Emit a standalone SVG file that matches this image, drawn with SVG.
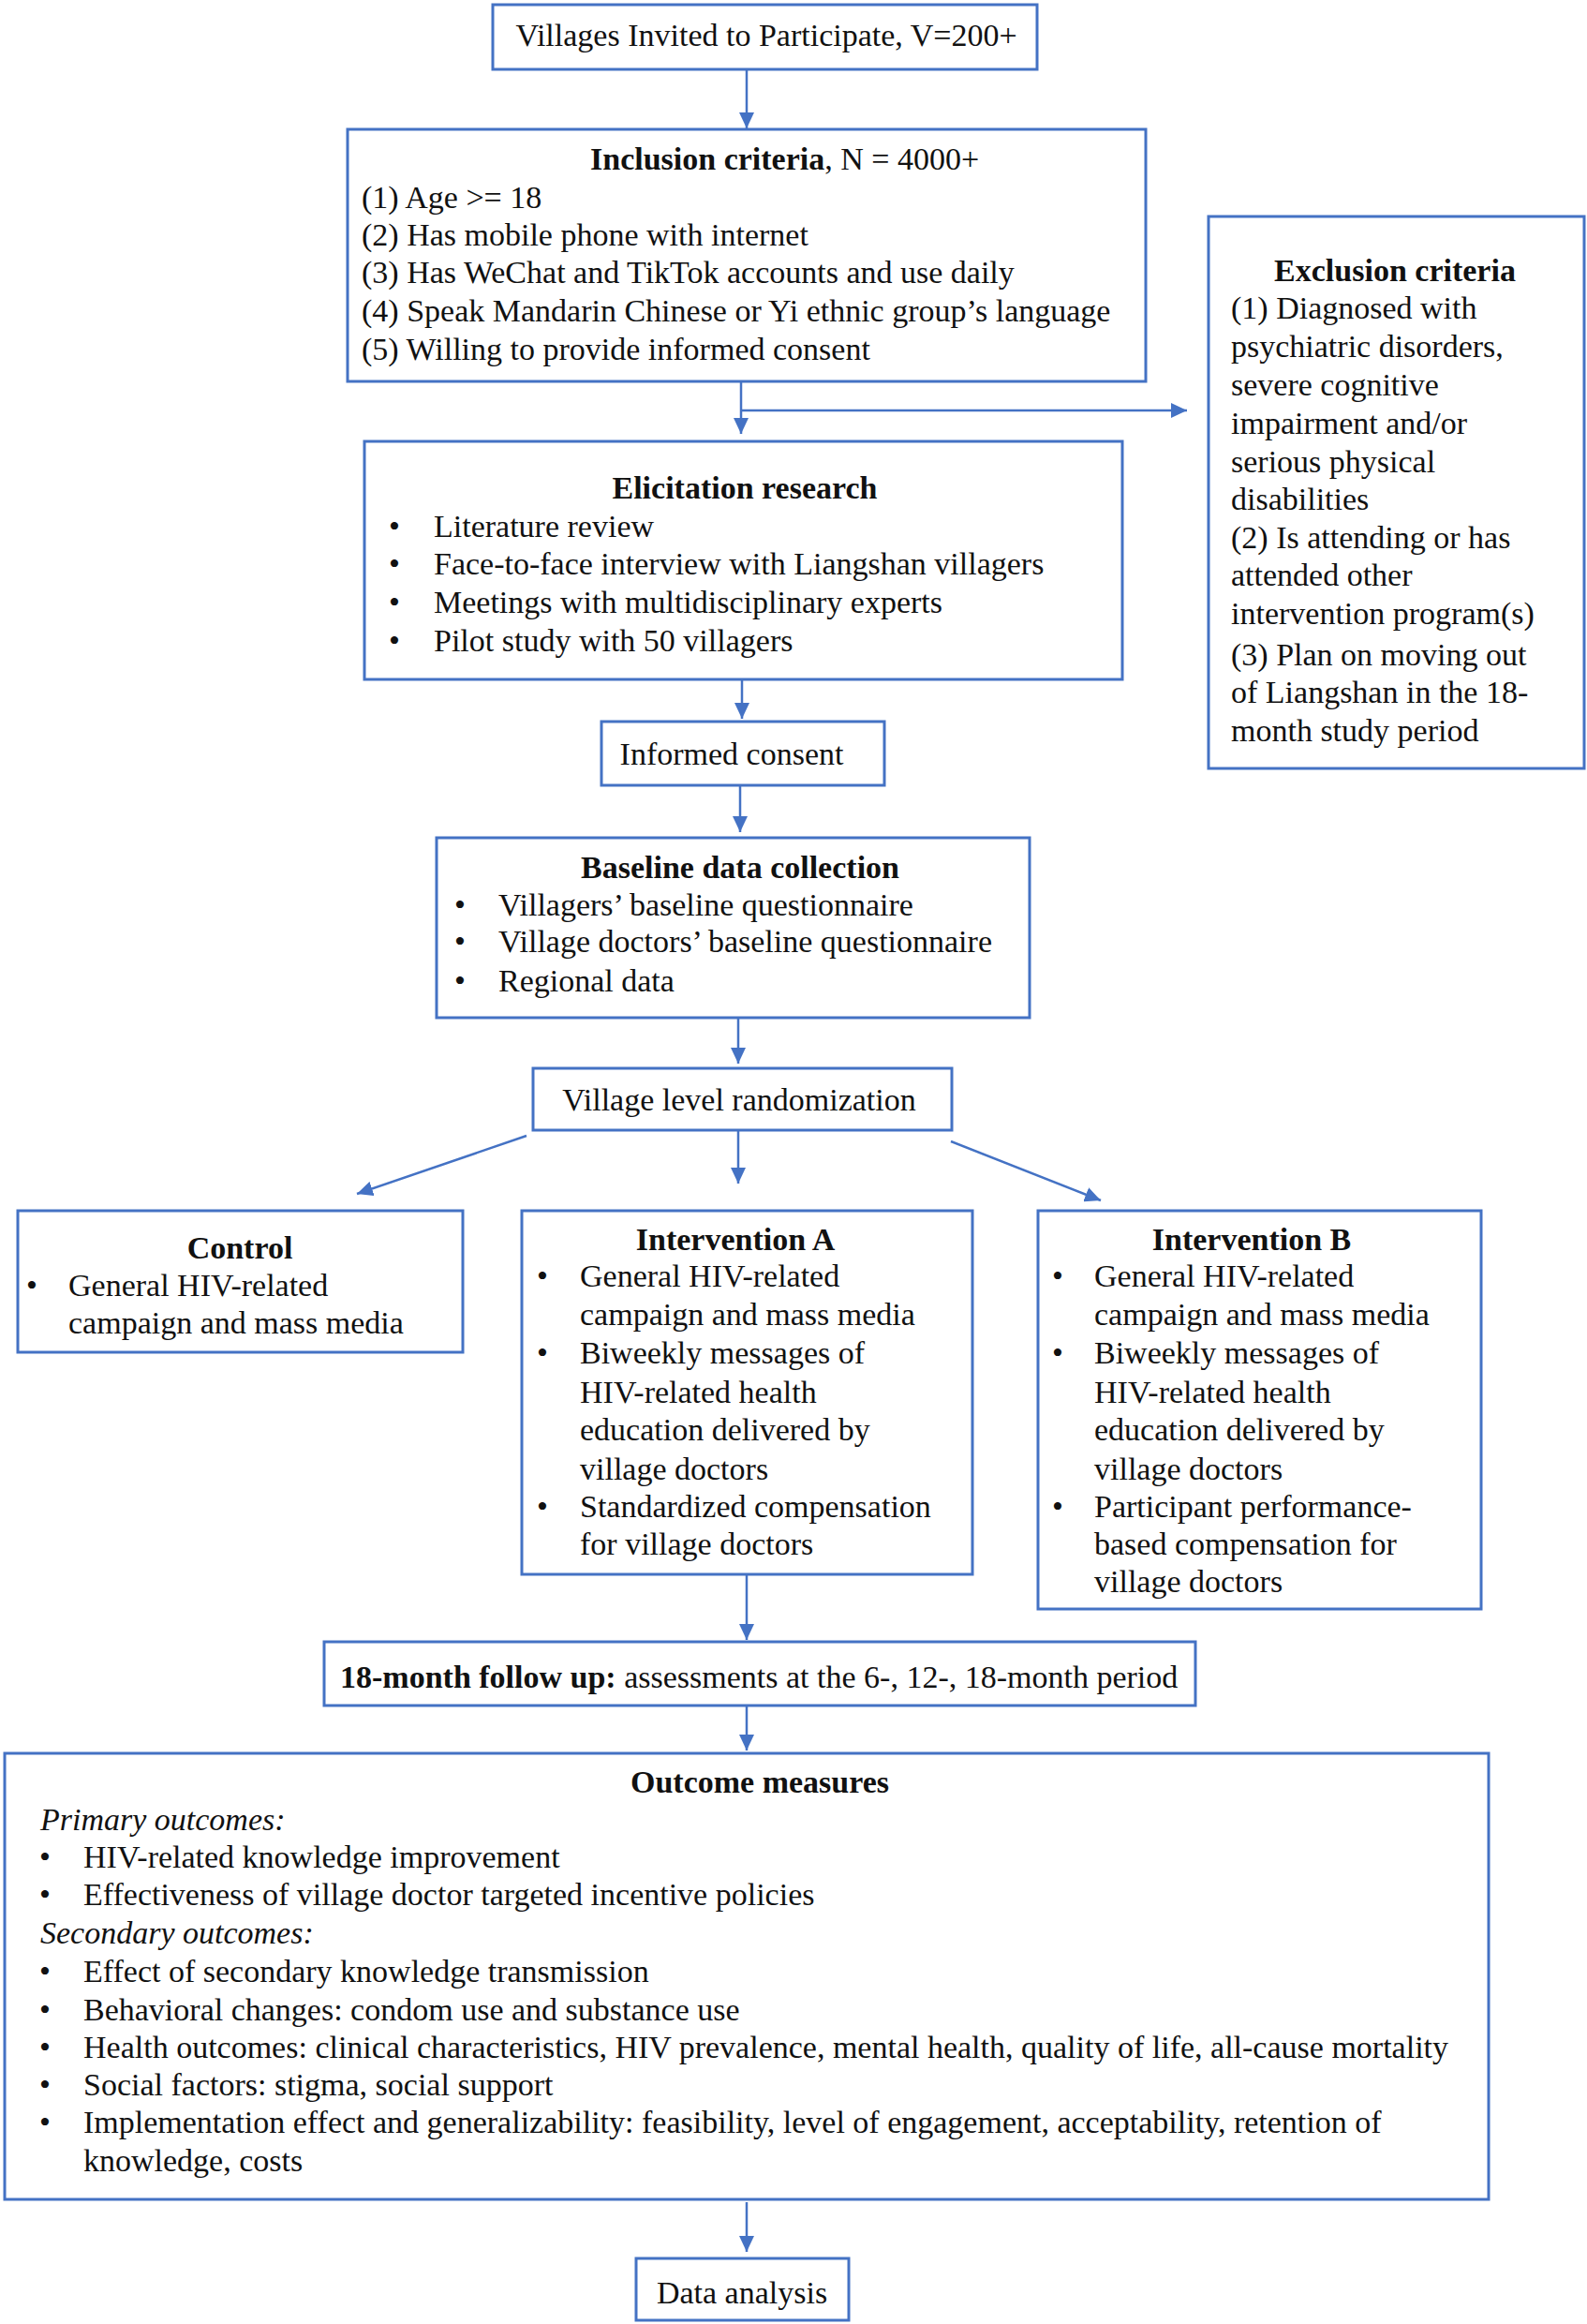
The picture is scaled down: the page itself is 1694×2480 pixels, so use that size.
<svg xmlns="http://www.w3.org/2000/svg" width="1694" height="2480" viewBox="0 0 1694 2480">
<defs>
<style>
.box{fill:#fff;stroke:#4472C4;stroke-width:3}
.t{font-family:"Liberation Serif","Times New Roman",serif;font-size:34px;fill:#111}
.b{font-weight:bold}
.i{font-style:italic}
.c{text-anchor:middle}
.ln{stroke:#4472C4;stroke-width:2.5;fill:none}
</style>
<marker id="ah" markerUnits="userSpaceOnUse" markerWidth="18" markerHeight="16" refX="17" refY="8" orient="auto">
<path d="M0,0 L17,8 L0,16 z" fill="#4472C4"/>
</marker>
</defs>
<rect width="1694" height="2480" fill="#fff"/>

<g id="connectors">
<line class="ln" x1="797" y1="74" x2="797" y2="137" marker-end="url(#ah)"/>
<line class="ln" x1="791" y1="407" x2="791" y2="463" marker-end="url(#ah)"/>
<line class="ln" x1="791" y1="438" x2="1267" y2="438" marker-end="url(#ah)"/>
<line class="ln" x1="792" y1="725" x2="792" y2="767" marker-end="url(#ah)"/>
<line class="ln" x1="790" y1="838" x2="790" y2="888" marker-end="url(#ah)"/>
<line class="ln" x1="788" y1="1086" x2="788" y2="1135" marker-end="url(#ah)"/>
<line class="ln" x1="562" y1="1212" x2="381" y2="1274" marker-end="url(#ah)"/>
<line class="ln" x1="788" y1="1206" x2="788" y2="1263" marker-end="url(#ah)"/>
<line class="ln" x1="1015" y1="1218" x2="1175" y2="1281" marker-end="url(#ah)"/>
<line class="ln" x1="797" y1="1680" x2="797" y2="1750" marker-end="url(#ah)"/>
<line class="ln" x1="797" y1="1821" x2="797" y2="1868" marker-end="url(#ah)"/>
<line class="ln" x1="797" y1="2350" x2="797" y2="2403" marker-end="url(#ah)"/>
</g>

<g id="villages">
<rect class="box" x="526" y="5" width="581" height="69"/>
<text class="t c" x="818" y="49">Villages Invited to Participate, V=200+</text>
</g>

<g id="inclusion">
<rect class="box" x="371" y="138" width="852" height="269"/>
<text class="t" x="630" y="181"><tspan class="b">Inclusion criteria</tspan>, N = 4000+</text>
<text class="t" x="386" y="222">(1) Age &gt;= 18</text>
<text class="t" x="386" y="262">(2) Has mobile phone with internet</text>
<text class="t" x="386" y="302">(3) Has WeChat and TikTok accounts and use daily</text>
<text class="t" x="386" y="343">(4) Speak Mandarin Chinese or Yi ethnic group’s language</text>
<text class="t" x="386" y="384">(5) Willing to provide informed consent</text>
</g>

<g id="exclusion">
<rect class="box" x="1290" y="231" width="401" height="589"/>
<text class="t b c" x="1489" y="300">Exclusion criteria</text>
<text class="t" x="1314" y="340">(1) Diagnosed with</text>
<text class="t" x="1314" y="381">psychiatric disorders,</text>
<text class="t" x="1314" y="422">severe cognitive</text>
<text class="t" x="1314" y="463">impairment and/or</text>
<text class="t" x="1314" y="504">serious physical</text>
<text class="t" x="1314" y="544">disabilities</text>
<text class="t" x="1314" y="585">(2) Is attending or has</text>
<text class="t" x="1314" y="625">attended other</text>
<text class="t" x="1314" y="666">intervention program(s)</text>
<text class="t" x="1314" y="710">(3) Plan on moving out</text>
<text class="t" x="1314" y="750">of Liangshan in the 18-</text>
<text class="t" x="1314" y="791">month study period</text>
</g>

<g id="elicitation">
<rect class="box" x="389" y="471" width="809" height="254"/>
<text class="t b c" x="795" y="532">Elicitation research</text>
<text class="t" x="415" y="573">•</text><text class="t" x="463" y="573">Literature review</text>
<text class="t" x="415" y="613">•</text><text class="t" x="463" y="613">Face-to-face interview with Liangshan villagers</text>
<text class="t" x="415" y="654">•</text><text class="t" x="463" y="654">Meetings with multidisciplinary experts</text>
<text class="t" x="415" y="695">•</text><text class="t" x="463" y="695">Pilot study with 50 villagers</text>
</g>

<g id="consent">
<rect class="box" x="642" y="770" width="302" height="68"/>
<text class="t c" x="781" y="816">Informed consent</text>
</g>

<g id="baseline">
<rect class="box" x="466" y="894" width="633" height="192"/>
<text class="t b c" x="790" y="937">Baseline data collection</text>
<text class="t" x="485" y="977">•</text><text class="t" x="532" y="977">Villagers’ baseline questionnaire</text>
<text class="t" x="485" y="1016">•</text><text class="t" x="532" y="1016">Village doctors’ baseline questionnaire</text>
<text class="t" x="485" y="1058">•</text><text class="t" x="532" y="1058">Regional data</text>
</g>

<g id="randomization">
<rect class="box" x="569" y="1140" width="447" height="66"/>
<text class="t c" x="789" y="1185">Village level randomization</text>
</g>

<g id="control">
<rect class="box" x="19" y="1292" width="475" height="151"/>
<text class="t b c" x="256" y="1343">Control</text>
<text class="t" x="28" y="1383">•</text><text class="t" x="73" y="1383">General HIV-related</text>
<text class="t" x="73" y="1423">campaign and mass media</text>
</g>

<g id="interventionA">
<rect class="box" x="557" y="1292" width="481" height="388"/>
<text class="t b c" x="785" y="1334">Intervention A</text>
<text class="t" x="573" y="1373">•</text><text class="t" x="619" y="1373">General HIV-related</text>
<text class="t" x="619" y="1414">campaign and mass media</text>
<text class="t" x="573" y="1455">•</text><text class="t" x="619" y="1455">Biweekly messages of</text>
<text class="t" x="619" y="1497">HIV-related health</text>
<text class="t" x="619" y="1537">education delivered by</text>
<text class="t" x="619" y="1579">village doctors</text>
<text class="t" x="573" y="1619">•</text><text class="t" x="619" y="1619">Standardized compensation</text>
<text class="t" x="619" y="1659">for village doctors</text>
</g>

<g id="interventionB">
<rect class="box" x="1108" y="1292" width="473" height="425"/>
<text class="t b c" x="1336" y="1334">Intervention B</text>
<text class="t" x="1123" y="1373">•</text><text class="t" x="1168" y="1373">General HIV-related</text>
<text class="t" x="1168" y="1414">campaign and mass media</text>
<text class="t" x="1123" y="1455">•</text><text class="t" x="1168" y="1455">Biweekly messages of</text>
<text class="t" x="1168" y="1497">HIV-related health</text>
<text class="t" x="1168" y="1537">education delivered by</text>
<text class="t" x="1168" y="1579">village doctors</text>
<text class="t" x="1123" y="1619">•</text><text class="t" x="1168" y="1619">Participant performance-</text>
<text class="t" x="1168" y="1659">based compensation for</text>
<text class="t" x="1168" y="1699">village doctors</text>
</g>

<g id="followup">
<rect class="box" x="346" y="1752" width="930" height="68"/>
<text class="t" x="363" y="1801"><tspan class="b">18-month follow up:</tspan> assessments at the 6-, 12-, 18-month period</text>
</g>

<g id="outcomes">
<rect class="box" x="5" y="1871" width="1584" height="476"/>
<text class="t b c" x="811" y="1913">Outcome measures</text>
<text class="t i" x="43" y="1953">Primary outcomes:</text>
<text class="t" x="42" y="1993">•</text><text class="t" x="89" y="1993">HIV-related knowledge improvement</text>
<text class="t" x="42" y="2033">•</text><text class="t" x="89" y="2033">Effectiveness of village doctor targeted incentive policies</text>
<text class="t i" x="43" y="2074">Secondary outcomes:</text>
<text class="t" x="42" y="2115">•</text><text class="t" x="89" y="2115">Effect of secondary knowledge transmission</text>
<text class="t" x="42" y="2156">•</text><text class="t" x="89" y="2156">Behavioral changes: condom use and substance use</text>
<text class="t" x="42" y="2196">•</text><text class="t" x="89" y="2196">Health outcomes: clinical characteristics, HIV prevalence, mental health, quality of life, all-cause mortality</text>
<text class="t" x="42" y="2236">•</text><text class="t" x="89" y="2236">Social factors: stigma, social support</text>
<text class="t" x="42" y="2276">•</text><text class="t" x="89" y="2276">Implementation effect and generalizability: feasibility, level of engagement, acceptability, retention of</text>
<text class="t" x="89" y="2317">knowledge, costs</text>
</g>

<g id="analysis">
<rect class="box" x="679" y="2410" width="227" height="66"/>
<text class="t c" x="792" y="2458">Data analysis</text>
</g>
</svg>
